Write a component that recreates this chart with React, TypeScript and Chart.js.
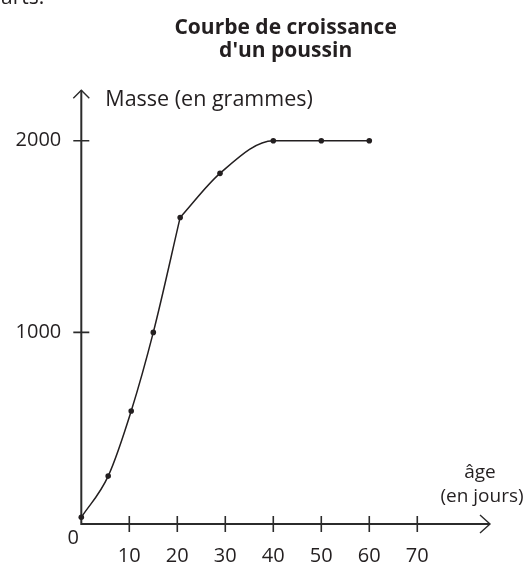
import React, { useEffect, useRef } from "react";
import { Chart, registerables } from "chart.js";

Chart.register(...registerables);

// ---- data ----
const ages = [0, 5.6, 10.4, 15, 20.6, 28.9, 40, 50, 60];
const masses = [35, 250, 590, 1000, 1600, 1830, 2000, 2000, 2000];
const kinkIndex = 4; // the curve has a sharp bend at this point
const xTickValues = [10, 20, 30, 40, 50, 60, 70];
const yTickValues = [1000, 2000];
const titleLines = ["Courbe de croissance", "d'un poussin"];
const yAxisLabel = "Masse (en grammes)";
const xAxisLabelLines = ["âge", "(en jours)"];
const originLabel = "0";
const clippedText = "arts.";

const INK = "#231f20";
const AXIS = "#2b2b2b";
const FONT = "'Open Sans', sans-serif";

export default function App() {
  const ref = useRef<HTMLCanvasElement>(null);

  useEffect(() => {
    if (!ref.current) return;

    const axesPlugin = {
      id: "axesArrows",
      beforeDatasetsDraw(chart: any) {
        const { ctx, chartArea, scales } = chart;
        const xs = scales.x;
        const ys = scales.y;
        const ox = xs.getPixelForValue(0);
        const oy = ys.getPixelForValue(0);
        const right = chartArea.right;
        const top = chartArea.top;
        ctx.save();
        ctx.strokeStyle = AXIS;
        ctx.lineWidth = 2;
        ctx.lineCap = "butt";
        ctx.beginPath();
        ctx.moveTo(ox, oy + 1);
        ctx.lineTo(ox, top);
        ctx.moveTo(ox - 1, oy);
        ctx.lineTo(right, oy);
        ctx.stroke();
        ctx.lineWidth = 1.6;
        ctx.beginPath();
        for (const t of xs.ticks) {
          const px = xs.getPixelForValue(t.value);
          ctx.moveTo(px, oy - 8);
          ctx.lineTo(px, oy + 8);
        }
        for (const t of ys.ticks) {
          const py = ys.getPixelForValue(t.value);
          ctx.moveTo(ox - 8, py);
          ctx.lineTo(ox + 8, py);
        }
        ctx.stroke();
        ctx.lineWidth = 1.4;
        ctx.beginPath();
        ctx.moveTo(ox - 8, top + 8);
        ctx.lineTo(ox, top);
        ctx.lineTo(ox + 8, top + 8);
        ctx.moveTo(right - 10, oy - 9);
        ctx.lineTo(right, oy);
        ctx.lineTo(right - 10, oy + 9);
        ctx.stroke();

        ctx.fillStyle = INK;
        ctx.textBaseline = "alphabetic";
        ctx.font = `21.5px ${FONT}`;
        ctx.textAlign = "left";
        ctx.fillText(yAxisLabel, ox + 24, top + 16);
        ctx.font = `21px ${FONT}`;
        ctx.fillText(clippedText, 1, 4);
        ctx.textAlign = "center";
        ctx.font = `19px ${FONT}`;
        ctx.fillText(xAxisLabelLines[0], right - 10, oy - 46);
        ctx.fillText(xAxisLabelLines[1], right - 8, oy - 22);
        ctx.font = `20px ${FONT}`;
        ctx.fillText(originLabel, ox - 8, oy + 20);
        ctx.restore();
      },
    };

    const pts = ages.map((a, i) => ({ x: a, y: masses[i] }));
    const common = {
      borderColor: INK,
      borderWidth: 1.5,
      pointBackgroundColor: INK,
      pointBorderWidth: 0,
      cubicInterpolationMode: "monotone" as const,
      fill: false,
      clip: false as any,
    };

    const chart = new Chart(ref.current, {
      type: "line",
      data: {
        datasets: [
          { ...common, data: pts.slice(0, kinkIndex + 1), pointRadius: 2.8 },
          {
            ...common,
            data: pts.slice(kinkIndex),
            pointRadius: pts.slice(kinkIndex).map((_, i) => (i === 0 ? 0 : 2.8)),
          },
        ],
      },
      options: {
        responsive: false,
        animation: false,
        layout: { padding: { left: 0, right: 34, top: 0, bottom: 0 } },
        plugins: {
          legend: { display: false },
          tooltip: { enabled: false },
          title: {
            display: true,
            fullSize: false,
            text: titleLines,
            color: INK,
            font: { family: FONT, size: 21, weight: "bold", lineHeight: 1.1 },
            padding: { top: 16, bottom: 28 },
          },
        },
        scales: {
          x: {
            type: "linear",
            min: 0,
            max: 85.15,
            grid: { display: false, drawTicks: false },
            border: { display: false },
            ticks: {
              color: INK,
              font: { family: FONT, size: 20 },
              padding: 20,
              autoSkip: false,
              maxRotation: 0,
              callback: (v: any) => String(v),
            },
            afterBuildTicks: (s: any) => {
              s.ticks = xTickValues.map((v) => ({ value: v }));
            },
            afterFit: (s: any) => {
              s.height = 41;
            },
          },
          y: {
            type: "linear",
            min: 0,
            max: 2264,
            grid: { display: false, drawTicks: false },
            border: { display: false },
            ticks: {
              color: INK,
              font: { family: FONT, size: 20 },
              padding: 20,
              autoSkip: false,
              callback: (v: any) => String(v),
            },
            afterBuildTicks: (s: any) => {
              s.ticks = yTickValues.map((v) => ({ value: v }));
            },
            afterFit: (s: any) => {
              s.width = 81.3;
            },
          },
        },
      },
      plugins: [axesPlugin],
    });

    return () => chart.destroy();
  }, []);

  return (
    <div style={{ position: "absolute", left: 0, top: 0, width: 524, height: 565, background: "#fff" }}>
      <canvas ref={ref} width={524} height={565} style={{ display: "block" }} />
    </div>
  );
}
